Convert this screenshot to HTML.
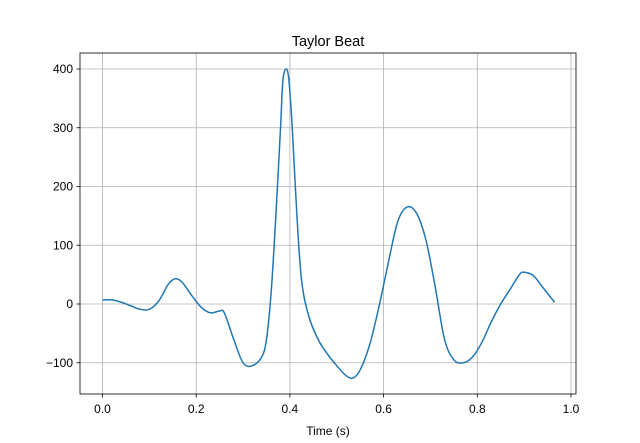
<!DOCTYPE html>
<html><head><meta charset="utf-8"><style>
body{margin:0;background:#fff;}
svg{display:block;font-family:"Liberation Sans","DejaVu Sans",sans-serif;}
</style></head><body>
<svg id="chart" width="640" height="443">
<rect x="0" y="0" width="640" height="443" fill="#fff"/>
<g id="grid"></g>
<g id="ticks"></g>
<path id="line" fill="none" stroke="#1f77b4" stroke-width="1.5"/>
<rect x="80" y="53" width="496" height="341" fill="none" stroke="#000" stroke-width="0.8"/>
<text x="328" y="46" text-anchor="middle" font-size="14.5">Taylor Beat</text>
<text x="328" y="435" text-anchor="middle" font-size="12">Time (s)</text>
</svg>
<script>
const times=[0,0.02,0.04,0.06,0.08,0.1,0.12,0.14,0.155,0.17,0.19,0.21,0.23,0.25,0.26,0.28,0.3,0.32,0.34,0.35,0.36,0.37,0.38,0.385,0.392,0.398,0.405,0.415,0.425,0.44,0.46,0.48,0.5,0.52,0.535,0.55,0.57,0.59,0.61,0.63,0.65,0.67,0.69,0.71,0.73,0.75,0.77,0.79,0.81,0.83,0.85,0.87,0.89,0.9,0.92,0.94,0.965];
const values=[7,7,3,-3,-9,-9,5,33,43,37,15,-5,-15,-12,-15,-60,-100,-105,-90,-60,20,150,300,380,400,380,300,150,40,-20,-60,-85,-105,-122,-126,-112,-70,-5,70,140,165,155,110,30,-60,-95,-100,-90,-65,-30,0,25,50,54,48,28,3];
const xTicks=[0,0.2,0.4,0.6,0.8,1.0];
const xTickLabels=["0.0","0.2","0.4","0.6","0.8","1.0"];
const yTicks=[-100,0,100,200,300,400];
const yTickLabels=["\u2212100","0","100","200","300","400"];
const X=v=>102.5+v*468.5;
const Y=v=>304-v*0.5875;
const NS="http://www.w3.org/2000/svg";
const grid=document.getElementById('grid'),ticks=document.getElementById('ticks');
function mk(tag,attrs,parent){const e=document.createElementNS(NS,tag);for(const k in attrs)e.setAttribute(k,attrs[k]);parent.appendChild(e);return e;}
xTicks.forEach((t,i)=>{
 const g=mk('line',{x1:X(t),x2:X(t),y1:53,y2:394,stroke:'#b0b0b0','stroke-width':0.8},grid);
 
 
 const tk=mk('line',{x1:X(t),x2:X(t),y1:394,y2:397.5,stroke:'#000','stroke-width':0.8},ticks);
 
 
 const tx=mk('text',{x:X(t),y:413,'text-anchor':'middle','font-size':12},ticks);
 tx.textContent=xTickLabels[i];
 
 
});
yTicks.forEach((v,i)=>{
 const g=mk('line',{x1:80,x2:576,y1:Y(v),y2:Y(v),stroke:'#b0b0b0','stroke-width':0.8},grid);
 
 
 const tk=mk('line',{x1:76.5,x2:80,y1:Y(v),y2:Y(v),stroke:'#000','stroke-width':0.8},ticks);
 
 
 const tx=mk('text',{x:73,y:Y(v)+4,'text-anchor':'end','font-size':12},ticks);
 tx.textContent=yTickLabels[i];
 
 
});
const pts=times.map((t,i)=>[X(t),Y(values[i])]);
let d='M'+pts[0][0]+','+pts[0][1];
for(let i=0;i<pts.length-1;i++){
 const p0=pts[Math.max(0,i-1)],p1=pts[i],p2=pts[i+1],p3=pts[Math.min(pts.length-1,i+2)];
 const c1=[p1[0]+(p2[0]-p0[0])/6,p1[1]+(p2[1]-p0[1])/6];
 const c2=[p2[0]-(p3[0]-p1[0])/6,p2[1]-(p3[1]-p1[1])/6];
 d+=' C'+c1+' '+c2+' '+p2;
}
document.getElementById('line').setAttribute('d',d);
</script>
</body></html>
